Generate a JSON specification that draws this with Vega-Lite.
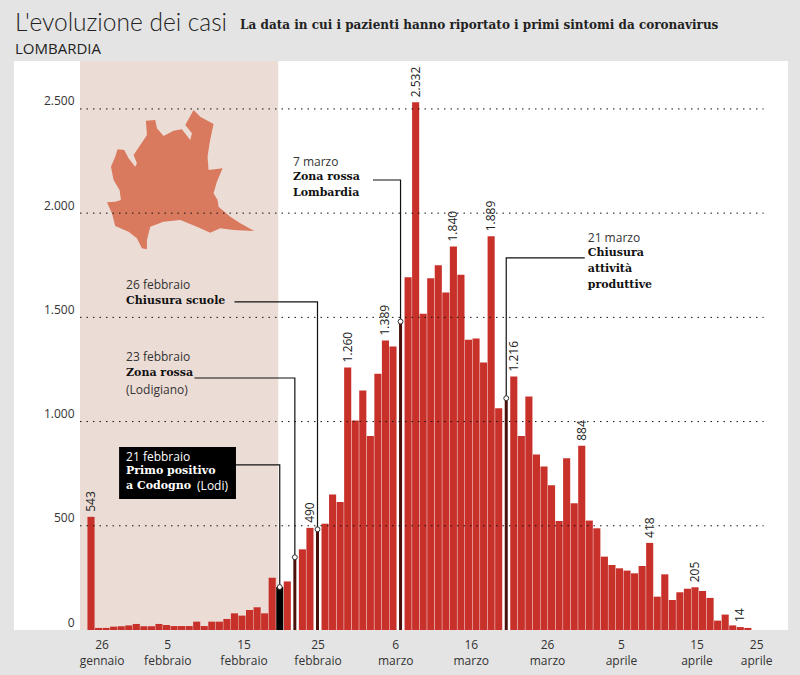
{
"$schema":"https://vega.github.io/schema/vega-lite/v6.json",
"width":774,"height":569,
"autosize":{"type":"none"},
"padding":{"left":14,"top":61,"right":12,"bottom":45},
"background":"#e4e4e4",
"view":{"fill":"#ffffff","stroke":null},
"title":{"text":"L'evoluzione dei casi","subtitle":"LOMBARDIA","anchor":"start","frame":"group","dx":1,"offset":-39,"font":"Lato","fontWeight":300,"fontSize":24.5,"color":"#222222","subtitleFont":"Open Sans","subtitleFontSize":15,"subtitleColor":"#222222","subtitlePadding":5},
"datasets":{
"casi":[
{"giorno":0,"casi":543,"tipo":"n","etichetta":"543"},{"giorno":1,"casi":10,"tipo":"n"},{"giorno":2,"casi":10,"tipo":"n"},{"giorno":3,"casi":16,"tipo":"n"},{"giorno":4,"casi":18,"tipo":"n"},{"giorno":5,"casi":22,"tipo":"n"},{"giorno":6,"casi":29,"tipo":"n"},{"giorno":7,"casi":18,"tipo":"n"},{"giorno":8,"casi":18,"tipo":"n"},{"giorno":9,"casi":29,"tipo":"n"},{"giorno":10,"casi":24,"tipo":"n"},{"giorno":11,"casi":19,"tipo":"n"},{"giorno":12,"casi":19,"tipo":"n"},{"giorno":13,"casi":19,"tipo":"n"},{"giorno":14,"casi":40,"tipo":"n"},{"giorno":15,"casi":19,"tipo":"n"},{"giorno":16,"casi":40,"tipo":"n"},{"giorno":17,"casi":40,"tipo":"n"},{"giorno":18,"casi":53,"tipo":"n"},{"giorno":19,"casi":80,"tipo":"n"},{"giorno":20,"casi":69,"tipo":"n"},{"giorno":21,"casi":96,"tipo":"n"},{"giorno":22,"casi":109,"tipo":"n"},{"giorno":23,"casi":80,"tipo":"n"},{"giorno":24,"casi":251,"tipo":"n"},{"giorno":25,"casi":206,"tipo":"primo"},{"giorno":26,"casi":233,"tipo":"n"},{"giorno":27,"casi":349,"tipo":"evento"},{"giorno":28,"casi":387,"tipo":"n"},{"giorno":29,"casi":490,"tipo":"n","etichetta":"490"},{"giorno":30,"casi":483,"tipo":"evento"},{"giorno":31,"casi":510,"tipo":"n"},{"giorno":32,"casi":650,"tipo":"n"},{"giorno":33,"casi":614,"tipo":"n"},{"giorno":34,"casi":1260,"tipo":"n","etichetta":"1.260"},{"giorno":35,"casi":1005,"tipo":"n"},{"giorno":36,"casi":1149,"tipo":"n"},{"giorno":37,"casi":931,"tipo":"n"},{"giorno":38,"casi":1229,"tipo":"n"},{"giorno":39,"casi":1389,"tipo":"n","etichetta":"1.389"},{"giorno":40,"casi":1360,"tipo":"n"},{"giorno":41,"casi":1480,"tipo":"evento"},{"giorno":42,"casi":1693,"tipo":"n"},{"giorno":43,"casi":2532,"tipo":"n","etichetta":"2.532"},{"giorno":44,"casi":1517,"tipo":"n"},{"giorno":45,"casi":1688,"tipo":"n"},{"giorno":46,"casi":1750,"tipo":"n"},{"giorno":47,"casi":1619,"tipo":"n"},{"giorno":48,"casi":1840,"tipo":"n","etichetta":"1.840"},{"giorno":49,"casi":1704,"tipo":"n"},{"giorno":50,"casi":1392,"tipo":"n"},{"giorno":51,"casi":1398,"tipo":"n"},{"giorno":52,"casi":1283,"tipo":"n"},{"giorno":53,"casi":1889,"tipo":"n","etichetta":"1.889"},{"giorno":54,"casi":1064,"tipo":"n"},{"giorno":55,"casi":1112,"tipo":"evento"},{"giorno":56,"casi":1216,"tipo":"n","etichetta":"1.216"},{"giorno":57,"casi":931,"tipo":"n"},{"giorno":58,"casi":1120,"tipo":"n"},{"giorno":59,"casi":842,"tipo":"n"},{"giorno":60,"casi":784,"tipo":"n"},{"giorno":61,"casi":694,"tipo":"n"},{"giorno":62,"casi":523,"tipo":"n"},{"giorno":63,"casi":824,"tipo":"n"},{"giorno":64,"casi":608,"tipo":"n"},{"giorno":65,"casi":884,"tipo":"n","etichetta":"884"},{"giorno":66,"casi":525,"tipo":"n"},{"giorno":67,"casi":488,"tipo":"n"},{"giorno":68,"casi":352,"tipo":"n"},{"giorno":69,"casi":312,"tipo":"n"},{"giorno":70,"casi":296,"tipo":"n"},{"giorno":71,"casi":285,"tipo":"n"},{"giorno":72,"casi":272,"tipo":"n"},{"giorno":73,"casi":307,"tipo":"n"},{"giorno":74,"casi":418,"tipo":"n","etichetta":"418"},{"giorno":75,"casi":160,"tipo":"n"},{"giorno":76,"casi":267,"tipo":"n"},{"giorno":77,"casi":144,"tipo":"n"},{"giorno":78,"casi":181,"tipo":"n"},{"giorno":79,"casi":198,"tipo":"n"},{"giorno":80,"casi":205,"tipo":"n","etichetta":"205"},{"giorno":81,"casi":187,"tipo":"n"},{"giorno":82,"casi":154,"tipo":"n"},{"giorno":83,"casi":45,"tipo":"n"},{"giorno":84,"casi":74,"tipo":"n"},{"giorno":85,"casi":22,"tipo":"n"},{"giorno":86,"casi":14,"tipo":"n","etichetta":"14"},{"giorno":87,"casi":10,"tipo":"n"}
],
"griglia":[{"giorno":-1.46,"giorno2":89.1,"casi":500},{"giorno":-1.46,"giorno2":89.1,"casi":1000},{"giorno":-1.46,"giorno2":89.1,"casi":1500},{"giorno":-1.46,"giorno2":89.1,"casi":2000},{"giorno":-1.46,"giorno2":89.1,"casi":2500}],
"guide":[
{"evento":"a","ordine":1,"giorno":19.2,"casi":792},{"evento":"a","ordine":2,"giorno":25,"casi":792},{"evento":"a","ordine":3,"giorno":25,"casi":206},
{"evento":"b","ordine":1,"giorno":13.7,"casi":1209},{"evento":"b","ordine":2,"giorno":27,"casi":1209},{"evento":"b","ordine":3,"giorno":27,"casi":349},
{"evento":"c","ordine":1,"giorno":19,"casi":1574},{"evento":"c","ordine":2,"giorno":30,"casi":1574},{"evento":"c","ordine":3,"giorno":30,"casi":483},
{"evento":"d","ordine":1,"giorno":37.35,"casi":2159},{"evento":"d","ordine":2,"giorno":41,"casi":2159},{"evento":"d","ordine":3,"giorno":41,"casi":1480},
{"evento":"e","ordine":1,"giorno":65.4,"casi":1785},{"evento":"e","ordine":2,"giorno":55,"casi":1785},{"evento":"e","ordine":3,"giorno":55,"casi":1112}
]
},
"encoding":{
"x":{"field":"giorno","type":"quantitative","title":null,"scale":{"domain":[-10.2,92.32],"nice":false,"zero":false,"padding":0},
"axis":{"values":[1.4,10.1,20.2,30,40.3,50.3,60.4,70.2,80.2,88.1],"grid":false,"domain":false,"ticks":false,"labelFont":"Open Sans","labelFontSize":12,"labelColor":"#333333","labelPadding":9,"labelLineHeight":16,"labelOverlap":false,"labelBound":false,"labelFlush":false,
"labelExpr":"split(['26|gennaio','5|febbraio','15|febbraio','25|febbraio','6|marzo','16|marzo','26|marzo','5|aprile','15|aprile','25|aprile'][indexof([1.4,10.1,20.2,30,40.3,50.3,60.4,70.2,80.2,88.1],datum.value)],'|')"}},
"y":{"field":"casi","type":"quantitative","title":null,"stack":null,"scale":{"domain":[0,2730],"nice":false,"zero":false},
"axis":{"values":[0,500,1000,1500,2000,2500],"grid":false,"domain":false,"ticks":false,"offset":-60,"labelPadding":0,"labelOffset":-8,"labelFont":"Open Sans","labelFontSize":12,"labelColor":"#333333","labelExpr":"replace(format(datum.value,','),',','.')"}}
},
"layer":[
{"data":{"values":[{"giorno":-1.46,"giorno2":24.8,"casi":0,"casi2":2730}]},"mark":{"type":"rect","color":"#ecdcd6"},"encoding":{"x2":{"field":"giorno2"},"y2":{"field":"casi2"}}},
{"data":{"values":[{"giorno":11.82,"casi":2159}]},"mark":{"type":"point","filled":true,"opacity":1,"color":"#d97a5f","size":22500,"shape":"M.178,-.933L.267,-.844L.444,-.747L.422,-.644L.391,-.489L.364,-.311L.378,-.133L.564,-.156L.489,.022L.444,.178L.498,.267L.511,.356L.667,.489L.8,.578L.987,.68L.711,.667L.533,.644L.4,.702L.222,.622L0,.533L-.222,.556L-.4,.622L-.444,.8L-.444,.924L-.511,.911L-.578,.778L-.689,.689L-.867,.613L-.911,.444L-.978,.298L-.867,.289L-.791,.267L-.809,.133L-.889,0L-.924,-.178L-.867,-.311L-.836,-.409L-.747,-.4L-.689,-.289L-.6,-.178L-.578,-.222L-.622,-.333L-.533,-.467L-.444,-.6L-.458,-.791L-.333,-.8L-.311,-.689L-.222,-.587L-.089,-.658L.022,-.676L.133,-.533L.156,-.622L.067,-.733Z"}},
{"data":{"name":"casi"},"transform":[{"filter":"datum.tipo=='n'"}],"mark":{"type":"bar","orient":"vertical","width":7.1,"color":"#c8302a"}},
{"data":{"name":"casi"},"transform":[{"filter":"datum.tipo=='evento'"}],"mark":{"type":"bar","orient":"vertical","width":3,"color":"#4a100c"}},
{"data":{"name":"casi"},"transform":[{"filter":"datum.tipo=='primo'"}],"mark":{"type":"bar","orient":"vertical","width":7,"color":"#000000"}},
{"data":{"name":"griglia"},"mark":{"type":"rule","color":"#111111","strokeWidth":1,"strokeDash":[1.5,5]},"encoding":{"x2":{"field":"giorno2"}}},
{"data":{"name":"guide"},"mark":{"type":"line","color":"#111111","strokeWidth":1.2,"interpolate":"linear"},"encoding":{"detail":{"field":"evento"},"order":{"field":"ordine"}}},
{"data":{"name":"casi"},"transform":[{"filter":"datum.tipo!='n'"}],"mark":{"type":"point","filled":true,"opacity":1,"fill":"#ffffff","stroke":"#333333","strokeWidth":1,"size":24}},
{"data":{"name":"casi"},"transform":[{"filter":"datum.etichetta"}],"mark":{"type":"text","angle":270,"align":"left","baseline":"middle","dx":5,"font":"Open Sans","fontSize":12,"color":"#222222"},"encoding":{"text":{"field":"etichetta"}}},
{"data":{"values":[{"giorno":3.72,"giorno2":19.2,"casi":629,"casi2":878}]},"mark":{"type":"rect","color":"#000000"},"encoding":{"x2":{"field":"giorno2"},"y2":{"field":"casi2"}}},
{"data":{"values":[
{"giorno":4.64,"casi":1655.5,"testo":"26 febbraio"},{"giorno":4.64,"casi":1310,"testo":"23 febbraio"},{"giorno":4.64,"casi":1151.6,"testo":"(Lodigiano)"},{"giorno":26.75,"casi":2245.7,"testo":"7 marzo"},{"giorno":65.8,"casi":1881,"testo":"21 marzo"}
]},"mark":{"type":"text","align":"left","baseline":"middle","font":"Open Sans","fontSize":12,"color":"#333333"},"encoding":{"text":{"field":"testo"}}},
{"data":{"values":[
{"giorno":4.64,"casi":1578.7,"testo":"Chiusura scuole"},{"giorno":4.64,"casi":1233.2,"testo":"Zona rossa"},{"giorno":26.75,"casi":2173.7,"testo":"Zona rossa"},{"giorno":26.75,"casi":2096.9,"testo":"Lombardia"},{"giorno":65.8,"casi":1809,"testo":"Chiusura"},{"giorno":65.8,"casi":1732.2,"testo":"attività"},{"giorno":65.8,"casi":1655.5,"testo":"produttive"}
]},"mark":{"type":"text","align":"left","baseline":"middle","font":"DejaVu Serif","fontWeight":"bold","fontSize":11,"color":"#111111"},"encoding":{"text":{"field":"testo"}}},
{"data":{"values":[{"giorno":4.64,"casi":830,"testo":"21 febbraio"},{"giorno":14.05,"casi":691,"testo":"(Lodi)"}]},"mark":{"type":"text","align":"left","baseline":"middle","font":"Open Sans","fontSize":12,"color":"#ffffff"},"encoding":{"text":{"field":"testo"}}},
{"data":{"values":[{"giorno":4.64,"casi":763,"testo":"Primo positivo"},{"giorno":4.64,"casi":691,"testo":"a Codogno"}]},"mark":{"type":"text","align":"left","baseline":"middle","font":"DejaVu Serif","fontWeight":"bold","fontSize":11,"color":"#ffffff"},"encoding":{"text":{"field":"testo"}}},
{"data":{"values":[{"giorno":19.75,"casi":2903,"testo":"La data in cui i pazienti hanno riportato i primi sintomi da coronavirus"}]},"mark":{"type":"text","align":"left","baseline":"middle","font":"DejaVu Serif","fontWeight":"bold","fontSize":12,"color":"#222222"},"encoding":{"text":{"field":"testo"}}}
]
}
